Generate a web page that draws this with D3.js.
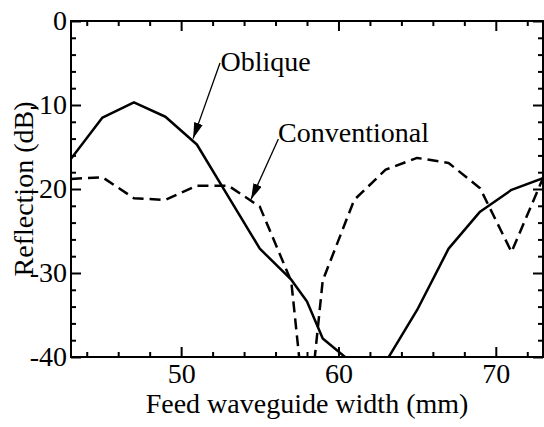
<!DOCTYPE html>
<html lang="en">
<head>
    <meta charset="UTF-8">
    <title>Reflection</title>
    <script src="https://d3js.org/d3.v7.min.js"></script>
    <style>
    body{
        margin: 0;
        background: #fff;
    }
    svg text {
        font-family: "Liberation Serif", serif;
        fill: #000;
    }
    .axis path { display: none; }
    .axis line { stroke: #000; stroke-width: 2; }
    .axis text { font-size: 28px; }
    .curve { fill: none; stroke: #000; stroke-width: 2.5; stroke-linejoin: round; }
    </style>
</head>
<body>
    <script>
    var width = 544;
    var height = 427;
    var margin = {left: 71, right: 1, top: 21, bottom: 70};
    var serif = '"Liberation Serif", serif';

    // data
    var widthMm = [43, 45, 47, 49, 51, 53, 55, 57, 58, 59, 61, 63, 65, 67, 69, 71, 73];
    var oblique = [-16.4, -11.5, -9.7, -11.4, -14.7, -20.9, -27.1, -30.8, -33.4, -37.8, -40.9, -40.6, -34.4, -27.1, -22.7, -20.1, -18.7];
    var conventional = [-18.8, -18.6, -21.1, -21.3, -19.6, -19.6, -22.1, -31.0, -49, -30.9, -21.3, -17.7, -16.3, -16.9, -19.9, -27.5, -18.7];
    var xTicks = [50, 60, 70];
    var xMinor = [44, 46, 48, 52, 54, 56, 58, 62, 64, 66, 68, 72];
    var yTicks = [0, -10, -20, -30, -40];
    var yMinor = [-2, -4, -6, -8, -12, -14, -16, -18, -22, -24, -26, -28, -32, -34, -36, -38];

    var svg = d3.select("body")
        .append("svg")
        .attr("width", width)
        .attr("height", height);

    var x = d3.scaleLinear()
        .domain([43, 73])
        .range([margin.left, width - margin.right]);

    var y = d3.scaleLinear()
        .domain([-40, 0])
        .range([height - margin.bottom, margin.top]);

    var x0 = x.range()[0], x1 = x.range()[1];
    var y0 = y.range()[0], y1 = y.range()[1];

    svg.append("defs").append("clipPath").attr("id", "plot")
        .append("rect")
        .attr("x", x0).attr("y", y1)
        .attr("width", x1 - x0).attr("height", y0 - y1);

    svg.select("defs").append("marker")
        .attr("id", "arrow")
        .attr("viewBox", "0 0 16 9")
        .attr("refX", 16).attr("refY", 4.5)
        .attr("markerWidth", 16).attr("markerHeight", 9)
        .attr("markerUnits", "userSpaceOnUse")
        .attr("orient", "auto")
        .append("path")
        .attr("d", "M0,0L16,4.5L0,9Z")
        .attr("fill", "#000");

    var fmt = function(d) { return String(d); };  // plain hyphen minus

    // axes, ticks inward
    svg.append("g").attr("class", "axis")
        .attr("transform", "translate(0," + y0 + ")")
        .call(d3.axisBottom(x).tickValues(xTicks).tickSize(-10).tickPadding(6).tickFormat(fmt));
    svg.append("g").attr("class", "axis")
        .attr("transform", "translate(0," + y0 + ")")
        .call(d3.axisBottom(x).tickValues(xMinor).tickSize(-5).tickFormat(""));
    svg.append("g").attr("class", "axis")
        .attr("transform", "translate(0," + y1 + ")")
        .call(d3.axisTop(x).tickValues(xTicks).tickSize(-10).tickFormat(""));
    svg.append("g").attr("class", "axis")
        .attr("transform", "translate(0," + y1 + ")")
        .call(d3.axisTop(x).tickValues(xMinor).tickSize(-5).tickFormat(""));

    svg.append("g").attr("class", "axis")
        .attr("transform", "translate(" + x0 + ",0)")
        .call(d3.axisLeft(y).tickValues(yTicks).tickSize(-10).tickPadding(4).tickFormat(fmt));
    svg.append("g").attr("class", "axis")
        .attr("transform", "translate(" + x0 + ",0)")
        .call(d3.axisLeft(y).tickValues(yMinor).tickSize(-5).tickFormat(""));
    svg.append("g").attr("class", "axis")
        .attr("transform", "translate(" + x1 + ",0)")
        .call(d3.axisRight(y).tickValues(yTicks).tickSize(-10).tickFormat(""));
    svg.append("g").attr("class", "axis")
        .attr("transform", "translate(" + x1 + ",0)")
        .call(d3.axisRight(y).tickValues(yMinor).tickSize(-5).tickFormat(""));

    svg.selectAll(".axis").attr("font-family", serif).attr("font-size", 28);

    // curves
    var line = d3.line()
        .x(function(d) { return x(d[0]); })
        .y(function(d) { return y(d[1]); });

    var plot = svg.append("g").attr("clip-path", "url(#plot)");
    plot.append("path").attr("class", "curve")
        .attr("d", line(d3.zip(widthMm, oblique)));
    plot.append("path").attr("class", "curve")
        .attr("stroke-dasharray", "11,6")
        .attr("d", line(d3.zip(widthMm, conventional)));

    // frame
    svg.append("rect")
        .attr("x", x0).attr("y", y1)
        .attr("width", x1 - x0).attr("height", y0 - y1)
        .attr("fill", "none").attr("stroke", "#000").attr("stroke-width", 2);

    // annotations
    var notes = [
        {label: "Oblique", tx: 52.5, ty: -5.95, from: [52.47, -5.0], to: [50.76, -14.0]},
        {label: "Conventional", tx: 56.16, ty: -14.4, from: [56.18, -14.05], to: [54.44, -21.25]}
    ];
    notes.forEach(function(n) {
        svg.append("line")
            .attr("x1", x(n.from[0])).attr("y1", y(n.from[1]))
            .attr("x2", x(n.to[0])).attr("y2", y(n.to[1]))
            .attr("stroke", "#000").attr("stroke-width", 1.3)
            .attr("marker-end", "url(#arrow)");
        svg.append("text")
            .attr("x", x(n.tx)).attr("y", y(n.ty))
            .attr("font-family", serif)
            .style("font-size", "28px")
            .text(n.label);
    });

    // axis titles
    svg.append("text")
        .attr("x", (x0 + x1) / 2).attr("y", 413)
        .attr("text-anchor", "middle")
        .attr("font-family", serif)
        .style("font-size", "28px")
        .text("Feed waveguide width (mm)");

    svg.append("text")
        .attr("transform", "translate(33," + (y0 + y1) / 2 + ") rotate(-90)")
        .attr("text-anchor", "middle")
        .attr("font-family", serif)
        .style("font-size", "28px")
        .text("Reflection (dB)");
    </script>
</body>
</html>
